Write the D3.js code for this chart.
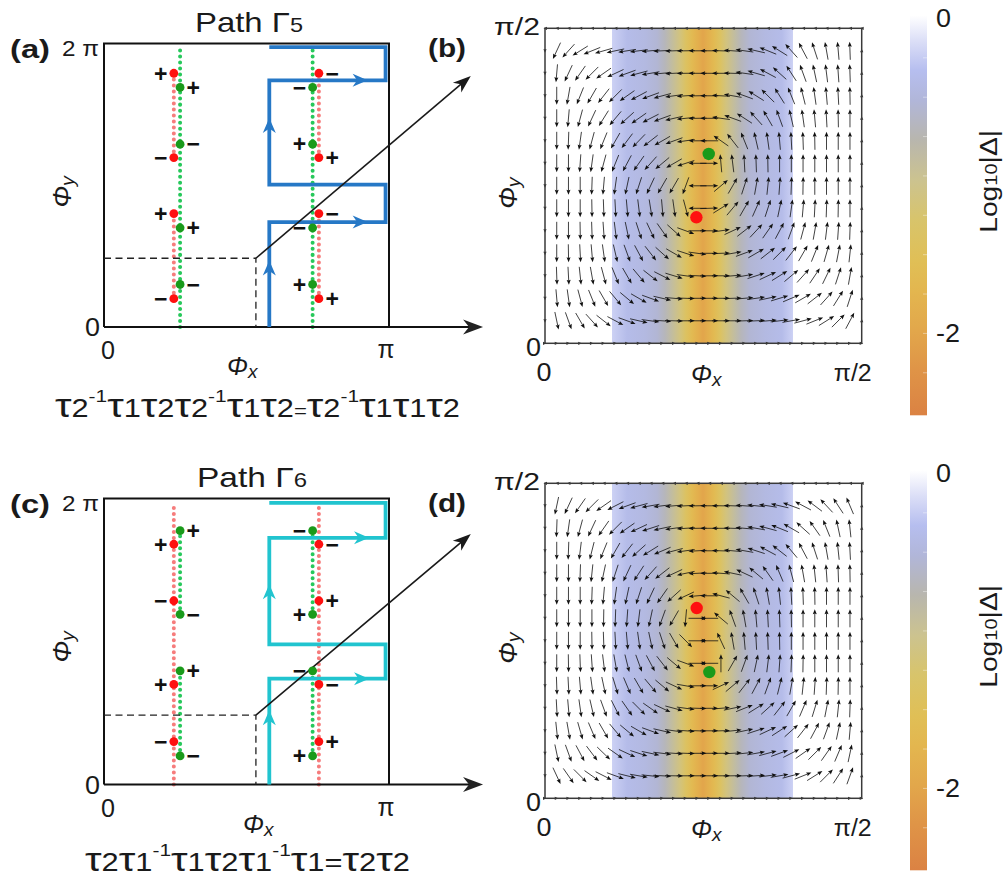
<!DOCTYPE html>
<html>
<head>
<meta charset="utf-8">
<title>Braiding paths and phase winding of the gap</title>
<script src="https://cdn.jsdelivr.net/npm/d3@7/dist/d3.min.js"></script>
<style>
  html, body { margin: 0; padding: 0; background: #fff; }
  svg { display: block; }
  text { font-family: "Liberation Sans", Arial, sans-serif; fill: #1a1a1a; }
</style>
</head>
<body>
<svg id="fig" width="1008" height="881" viewBox="0 0 1008 881"></svg>
<script>
const PI = Math.PI;

// ---------- data: loops on the (phi_x, phi_y) torus, coordinates in units of pi ----------
const loopA = [[0.58,0],[0.58,0.74],[0.988,0.74],[0.988,1.005],[0.58,1.005],[0.58,1.74],[0.988,1.74],[0.988,1.974],[0.58,1.974]];
const loopC = [[0.58,0],[0.58,0.74],[0.988,0.74],[0.988,0.98],[0.58,0.98],[0.58,1.725],[0.988,1.725],[0.988,1.97],[0.58,1.97]];
const loopHeadsA = [[0.58,0.47,"up"],[0.58,1.475,"up"],[0.925,0.74,"right"],[0.925,1.74,"right"]];
const loopHeadsC = [[0.58,0.52,"up"],[0.58,1.40,"up"],[0.93,0.74,"right"],[0.93,1.725,"right"]];

// gap nodes: [phi_x, phi_y, colour, charge, label side]
const nodesA = [
  [0.245,1.79,"r","+",-1],[0.267,1.69,"g","+",1],[0.267,1.29,"g","\u2212",1],[0.245,1.195,"r","\u2212",-1],
  [0.245,0.80,"r","+",-1],[0.267,0.70,"g","+",1],[0.267,0.30,"g","\u2212",1],[0.245,0.20,"r","\u2212",-1],
  [0.754,1.79,"r","\u2212",1],[0.732,1.69,"g","\u2212",-1],[0.732,1.29,"g","+",-1],[0.754,1.195,"r","+",1],
  [0.754,0.80,"r","\u2212",1],[0.732,0.70,"g","\u2212",-1],[0.732,0.30,"g","+",-1],[0.754,0.20,"r","+",1]];
const nodesC = [
  [0.267,1.775,"g","+",1],[0.245,1.68,"r","+",-1],[0.245,1.285,"r","\u2212",-1],[0.267,1.19,"g","\u2212",1],
  [0.267,0.795,"g","+",1],[0.245,0.70,"r","+",-1],[0.245,0.30,"r","\u2212",-1],[0.267,0.20,"g","\u2212",1],
  [0.732,1.775,"g","\u2212",-1],[0.754,1.68,"r","\u2212",1],[0.754,1.285,"r","+",1],[0.732,1.19,"g","+",-1],
  [0.732,0.795,"g","\u2212",-1],[0.754,0.70,"r","\u2212",1],[0.754,0.30,"r","+",1],[0.732,0.20,"g","+",-1]];

// dotted nodal lines: [phi_x, phi_y from, phi_y to]
const greenLinesA = [[0.267,0,1.97],[0.732,0,1.97]];
const redLinesA   = [[0.245,0.20,0.80],[0.245,1.195,1.79],[0.754,0.20,0.80],[0.754,1.195,1.79]];
const redLinesC   = [[0.245,0,1.96],[0.754,0,1.96]];
const greenLinesC = [[0.267,0.20,0.795],[0.267,1.19,1.775],[0.732,0.20,0.795],[0.732,1.19,1.775]];

// corner of the magnified window and tip of the pointer arrow
const windowCorner = [0.533, 0.485];
const pointerTipA = [1.287, 1.771];
const pointerTipC = [1.287, 1.751];
const axisEndX = 1.33;

// braid words under the loops ("^" = superscript, "_" = small run on the baseline)
const wordA = ["τ","2","^-1","τ","1","τ","2","τ","2","^-1","τ","1","τ","2","_=","τ","2","^-1","τ","1","τ","1","τ","2"];
const wordC = ["τ","2","τ","1","^-1","τ","1","τ","2","τ","1","^-1","τ","1","=","τ","2","τ","2"];

// ---------- data: magnified window [0, pi/2]^2 ----------
// nodes inside the window (units of pi)
const nodesB = [[0.2585,0.3005,"g"],[0.239,0.200,"r"]];
const nodesD = [[0.2395,0.302,"r"],[0.2594,0.2003,"g"]];

// direction of the gap vector (degrees), rows top to bottom, 26 columns left to right
const fieldB = [
  [245,228,212,202,196,192,189,187,185,183,182,181,180,180,178,176,172,167,158,148,132,118,108,100,95,92],
  [265,245,235,225,215,205,200,195,190,185,183,181,180,180,180,178,172,164,152,138,123,110,102,97,94,92],
  [270,260,248,240,232,225,215,208,200,195,188,184,181,180,177,170,160,148,135,122,112,104,98,95,93,91],
  [270,265,255,245,238,230,222,215,207,200,193,186,181,180,172,160,147,132,120,110,103,98,95,93,91,90],
  [270,268,262,255,248,240,233,226,218,210,200,188,180,180,145,128,112,103,98,95,93,92,91,90,90,90],
  [270,270,266,262,255,248,242,235,228,220,210,198,180,0,95,97,93,92,91,90,90,90,90,90,90,90],
  [270,270,270,268,265,262,258,252,245,240,240,250,180,0,40,60,72,80,84,86,88,89,90,90,90,90],
  [270,270,270,271,272,273,275,277,279,275,278,285,180,2,32,50,60,66,72,78,82,85,87,88,89,90],
  [270,270,271,272,274,277,282,288,295,305,318,340,0,0,8,25,38,47,55,62,70,75,80,83,86,88],
  [270,271,273,275,278,283,290,298,308,318,330,342,352,0,2,10,20,30,38,45,52,60,68,74,79,84],
  [272,273,276,280,285,292,300,310,322,333,343,352,357,0,0,5,10,18,25,32,40,48,56,64,72,80],
  [275,278,285,292,300,310,320,330,340,347,355,358,0,0,0,2,5,8,12,17,23,30,38,48,58,72],
  [282,290,300,312,322,332,340,347,352,356,358,0,0,0,0,0,2,3,5,7,10,15,22,32,45,62]
];
const fieldD = [
  [258,245,235,225,215,207,200,195,190,187,185,183,181,180,179,178,176,174,171,167,160,152,143,133,123,113],
  [268,262,255,245,235,225,215,205,198,192,188,184,181,180,180,178,175,170,165,158,150,138,125,112,102,96],
  [270,268,263,256,248,240,232,222,212,203,195,188,183,180,178,175,170,162,152,142,130,118,108,100,96,93],
  [270,270,268,264,258,252,245,237,228,218,205,192,183,180,176,168,155,140,125,113,105,100,96,94,92,91],
  [270,270,270,268,265,262,258,252,245,235,222,205,185,180,165,140,120,108,100,96,93,92,91,90,90,90],
  [270,270,270,270,269,268,266,263,258,250,240,265,0,180,140,110,100,95,93,92,91,90,90,90,90,90],
  [270,270,270,271,272,273,275,278,282,288,300,315,0,180,115,100,95,93,92,91,90,90,90,90,90,90],
  [270,271,272,274,277,280,284,290,298,308,320,340,0,180,90,60,70,78,83,86,88,89,90,90,90,90],
  [272,273,275,278,282,287,293,300,310,320,335,350,0,0,25,40,52,62,70,76,80,84,86,88,89,90],
  [273,275,278,283,290,297,305,315,325,335,345,352,358,0,5,12,22,32,42,52,60,67,73,79,84,88],
  [276,280,286,293,300,310,320,330,340,347,352,356,358,0,2,6,12,18,25,33,42,52,62,70,78,85],
  [282,290,298,307,316,325,335,342,348,353,356,358,0,0,0,3,6,10,15,20,27,35,45,55,67,78],
  [295,305,315,325,333,340,346,350,354,357,359,0,0,0,0,1,2,4,7,10,15,22,32,45,57,70]
];

// log10|gap| across phi_x (units of pi); outside this band the map is left blank
const bandPhi = [0.1058,0.1295,0.158,0.177,0.1895,0.2005,0.213,0.2225,0.232,0.2415,0.2495,0.2575,0.267,0.2765,0.286,0.2985,0.3095,0.3235,0.3475,0.374,0.3915];
const bandLog = [-0.22,-0.38,-0.45,-0.55,-0.7,-0.9,-1.15,-1.4,-1.65,-1.85,-2.0,-1.85,-1.65,-1.4,-1.15,-0.9,-0.7,-0.55,-0.45,-0.38,-0.22];

// colour map for log10|gap|
const cbVals = [0.02,-0.14,-0.33,-0.52,-0.77,-1.03,-1.28,-1.54,-1.73,-1.98,-2.23,-2.52];
const cbColors = ["#ffffff","#dcdff7","#b6beef","#b1b6d9","#b8b6ae","#ccc38f","#d8c46b","#e0bf56","#e3b64f","#e2a74b","#df9447","#db8243"];
const cbTicks = [0, -2];
const cbTickLabels = ["0", "-2"];

// ---------- drawing ----------
const svg = d3.select("#fig");
const defs = svg.append("defs");
const logColor = d3.scaleLinear().domain(cbVals).range(cbColors).interpolate(d3.interpolateRgb);

// text made of runs [string, size, raise, italic, bold], fitted to a width
function richText(parent, runs, o) {
  const g = parent.append("g");
  const t = g.append("text").attr("x", 0).attr("y", 0);
  let cur = 0;
  runs.forEach(([s, size, raise = 0, italic = false, bold = false]) => {
    t.append("tspan").text(s)
      .attr("dy", cur - raise)
      .style("font-size", size + "px")
      .style("font-style", italic ? "italic" : "normal")
      .style("font-weight", bold ? "bold" : "normal");
    cur = raise;
  });
  const bb = t.node().getBBox();
  const sx = o.width ? o.width / bb.width : 1;
  const ax = o.anchor === "middle" ? bb.x + bb.width / 2 : o.anchor === "end" ? bb.x + bb.width : bb.x;
  const rot = o.rotate ? ` rotate(${o.rotate})` : "";
  g.attr("transform", `translate(${o.x},${o.y})${rot} scale(${sx},1) translate(${-ax},0)`);
  return g;
}

function arrowHead(g, tx, ty, ang, len, half, fill, notch) {
  const ux = Math.cos(ang), uy = Math.sin(ang);
  const px = -uy, py = ux;
  const bx = tx - ux * len, by = ty - uy * len;
  const nx = tx - ux * len * (1 - notch), ny = ty - uy * len * (1 - notch);
  g.append("path")
    .attr("d", `M${tx},${ty}L${bx + px * half},${by + py * half}L${nx},${ny}L${bx - px * half},${by - py * half}Z`)
    .attr("fill", fill);
}

function wordRuns(word) {
  return word.map(s => {
    if (s === "τ") return ["τ", 34, 0];
    if (s[0] === "^") return [s.slice(1), 17, 15];
    if (s[0] === "_") return [s.slice(1), 18, 0];
    return [s, 25, 0];
  });
}

// ---- loop panels (a) and (c) ----
function loopPanel(p) {
  const x = d3.scaleLinear().domain([0, PI]).range([104, 389]);
  const y = d3.scaleLinear().domain([0, 2 * PI]).range([p.bottom, p.top]);
  const g = svg.append("g");

  // nodal lines
  const dotted = (lines, color) => lines.forEach(([lx, a, b]) => {
    g.append("line")
      .attr("x1", x(lx * PI)).attr("x2", x(lx * PI))
      .attr("y1", y(a * PI)).attr("y2", y(b * PI))
      .attr("stroke", color).attr("stroke-width", 4)
      .attr("stroke-linecap", "round").attr("stroke-dasharray", "0.01 6");
  });
  dotted(p.under, p.underColor);
  dotted(p.over, p.overColor);

  // frame and phi_x axis
  g.append("path")
    .attr("d", `M${x(0)},${y(0)}V${y(2 * PI)}H${x(PI)}V${y(0)}`)
    .attr("fill", "none").attr("stroke", "#111").attr("stroke-width", 2);
  g.append("line")
    .attr("x1", x(0)).attr("x2", x(axisEndX * PI) - 10)
    .attr("y1", y(0)).attr("y2", y(0))
    .attr("stroke", "#111").attr("stroke-width", 2);
  arrowHead(g, x(axisEndX * PI), y(0), 0, 20, 7.5, "#222", 0.3);

  // loop
  const line = d3.line().x(d => x(d[0] * PI)).y(d => y(d[1] * PI));
  g.append("path").attr("d", line(p.loop))
    .attr("fill", "none").attr("stroke", p.loopColor).attr("stroke-width", 3.8)
    .attr("stroke-linejoin", "miter");
  p.heads.forEach(([hx, hy, dir]) => {
    arrowHead(g, x(hx * PI), y(hy * PI), dir === "up" ? -PI / 2 : 0, 15, 6.5, p.loopColor, 0.3);
  });

  // magnified window marker and pointer
  g.append("path")
    .attr("d", `M${x(0)},${y(windowCorner[1] * PI)}H${x(windowCorner[0] * PI)}V${y(0)}`)
    .attr("fill", "none").attr("stroke", "#222").attr("stroke-width", 1.3)
    .attr("stroke-dasharray", "7 4.5");
  const cx = x(windowCorner[0] * PI), cy = y(windowCorner[1] * PI);
  const tx = x(p.tip[0] * PI), ty = y(p.tip[1] * PI);
  const ang = Math.atan2(ty - cy, tx - cx);
  g.append("line").attr("x1", cx).attr("y1", cy)
    .attr("x2", tx - Math.cos(ang) * 12).attr("y2", ty - Math.sin(ang) * 12)
    .attr("stroke", "#1a1a1a").attr("stroke-width", 1.6);
  arrowHead(g, tx, ty, ang, 18, 6.5, "#1a1a1a", 0.28);

  // nodes with charges
  p.nodes.forEach(([nx, ny, c, s, side]) => {
    g.append("circle").attr("cx", x(nx * PI)).attr("cy", y(ny * PI)).attr("r", 4.4)
      .attr("fill", c === "r" ? "#ff1010" : "#1a9a1a");
    g.append("text")
      .attr("x", x(nx * PI) + side * 6.5).attr("y", y(ny * PI)).attr("dy", "0.36em")
      .attr("text-anchor", side < 0 ? "end" : "start")
      .style("font-size", "23px").style("font-weight", "bold").style("fill", "#111")
      .text(s);
  });

  // texts
  richText(g, [["Path Γ", 28], [p.sub, 20]], { x: p.titleX, y: p.top - 12, width: p.titleW, anchor: "middle" });
  richText(g, [[p.label, 26, 0, false, true]], { x: 10, y: p.top + 14, width: 40 });
  richText(g, [["2 π", 22]], { x: 99, y: p.top + 12, width: 37, anchor: "end" });
  richText(g, [["0", 25]], { x: 100, y: y(0) + 9, width: 15, anchor: "end" });
  richText(g, [["0", 25]], { x: x(0) + 4, y: y(0) + 32, width: 14, anchor: "middle" });
  richText(g, [["π", 25]], { x: x(PI) - 3, y: y(0) + 31, width: 17, anchor: "middle" });
  richText(g, [["Φ", 25, 0, true], ["x", 19, -3, true]], { x: p.phixX, y: y(0) + 48, width: 32, anchor: "middle" });
  richText(g, [["Φ", 25, 0, true], ["y", 19, -3, true]], { x: 71, y: p.phiyY, width: 33, anchor: "middle", rotate: -90 });
  richText(g, wordRuns(p.word), { x: p.wordX, y: p.wordY, width: p.wordW });
}

// ---- magnified panels (b) and (d) ----
function fieldPanel(p) {
  const x = d3.scaleLinear().domain([0, PI / 2]).range([545, 861.7]);
  const y = d3.scaleLinear().domain([0, PI / 2]).range([p.top + 315, p.top]);
  const g = svg.append("g");

  // log10|gap| band
  const gid = "band" + p.id;
  const x0 = x(bandPhi[0] * PI), x1 = x(bandPhi[bandPhi.length - 1] * PI);
  const grad = defs.append("linearGradient").attr("id", gid)
    .attr("gradientUnits", "userSpaceOnUse")
    .attr("x1", x0).attr("x2", x1).attr("y1", 0).attr("y2", 0);
  bandPhi.forEach((ph, k) => {
    grad.append("stop").attr("offset", (x(ph * PI) - x0) / (x1 - x0)).attr("stop-color", logColor(bandLog[k]));
  });
  g.append("rect").attr("x", x0).attr("y", y(PI / 2)).attr("width", x1 - x0).attr("height", y(0) - y(PI / 2))
    .attr("fill", `url(#${gid})`);

  // vector field
  const field = p.field;
  const nx = field[0].length, ny = field.length;
  const dx = (PI / 2) / (nx + 1), dy = (PI / 2) / (ny + 1);
  const L = 18, HL = 5, HW = 2;
  const arrows = g.append("g");
  field.forEach((row, j) => row.forEach((deg, i) => {
    const px = x((i + 1) * dx), py = y(PI / 2 - (j + 1) * dy);
    const a = deg * PI / 180, ux = Math.cos(a), uy = -Math.sin(a);
    const tx = px + ux * L / 2, ty = py + uy * L / 2;
    arrows.append("line")
      .attr("x1", px - ux * L / 2).attr("y1", py - uy * L / 2)
      .attr("x2", tx - ux * HL * 0.8).attr("y2", ty - uy * HL * 0.8)
      .attr("stroke", "#111").attr("stroke-width", 0.8);
    arrowHead(arrows, tx, ty, Math.atan2(uy, ux), HL, HW, "#111", 0.15);
  }));
  // vanishing arrows on the boundary of the window
  d3.range(0, nx + 2).forEach(i => {
    arrowHead(arrows, x(i * dx) - 1.5, y(PI / 2), PI, 3.5, 1.6, "#333", 0);
    arrowHead(arrows, x(i * dx) + 1.5, y(0), 0, 3.5, 1.6, "#333", 0);
  });
  d3.range(1, ny + 1).forEach(j => {
    arrowHead(arrows, x(0), y(PI / 2 - j * dy) + 2, PI / 2, 3.5, 1.6, "#333", 0);
    arrowHead(arrows, x(PI / 2), y(PI / 2 - j * dy) - 2, -PI / 2, 3.5, 1.6, "#333", 0);
  });

  // frame
  g.append("rect").attr("x", x(0)).attr("y", y(PI / 2)).attr("width", x(PI / 2) - x(0)).attr("height", y(0) - y(PI / 2))
    .attr("fill", "none").attr("stroke", "#3a3a3a").attr("stroke-width", 1.5);

  // nodes
  p.nodes.forEach(([nxp, nyp, c]) => {
    g.append("circle").attr("cx", x(nxp * PI)).attr("cy", y(nyp * PI)).attr("r", 6.2)
      .attr("fill", c === "r" ? "#ff1010" : "#1a9a1a");
  });

  // texts
  richText(g, [[p.label, 26, 0, false, true]], { x: 428, y: p.top + 29, width: 38 });
  richText(g, [["π/2", 24]], { x: 540, y: p.top + 7, width: 46, anchor: "end" });
  richText(g, [["0", 25]], { x: 541, y: y(0) + 13, width: 15, anchor: "end" });
  richText(g, [["0", 25]], { x: x(0) - 1, y: y(0) + 38, width: 15, anchor: "middle" });
  richText(g, [["π/2", 24]], { x: x(PI / 2) - 9, y: y(0) + 38, width: 38, anchor: "middle" });
  richText(g, [["Φ", 25, 0, true], ["x", 19, -3, true]], { x: 707, y: y(0) + 40, width: 32, anchor: "middle" });
  richText(g, [["Φ", 25, 0, true], ["y", 19, -3, true]], { x: 517, y: p.top + 164, width: 33, anchor: "middle", rotate: -90 });

  // colour bar
  const cy = d3.scaleLinear().domain([cbVals[0], cbVals[cbVals.length - 1]]).range([p.top - 13, p.top + 387]);
  const cid = "cbar" + p.id;
  const cg = defs.append("linearGradient").attr("id", cid)
    .attr("gradientUnits", "userSpaceOnUse")
    .attr("x1", 0).attr("x2", 0).attr("y1", cy(cbVals[0])).attr("y2", cy(cbVals[cbVals.length - 1]));
  cbVals.forEach((v, k) => {
    cg.append("stop").attr("offset", (cy(v) - cy(cbVals[0])) / (cy(cbVals[cbVals.length - 1]) - cy(cbVals[0])))
      .attr("stop-color", cbColors[k]);
  });
  g.append("rect").attr("x", 910).attr("y", cy(cbVals[0])).attr("width", 17)
    .attr("height", cy(cbVals[cbVals.length - 1]) - cy(cbVals[0]))
    .attr("fill", `url(#${cid})`);
  d3.range(-0.25, -2.5, -0.25).forEach(v => {
    g.append("line").attr("x1", 923).attr("x2", 927).attr("y1", cy(v)).attr("y2", cy(v))
      .attr("stroke", "#ffffff").attr("stroke-opacity", 0.5).attr("stroke-width", 0.8);
  });
  cbTicks.forEach((v, k) => {
    richText(g, [[cbTickLabels[k], 25]], { x: 936, y: cy(v) + 9, width: k === 0 ? 15 : 24 });
  });
  richText(g, [["Log", 24], ["10", 17], ["|Δ|", 24]], { x: 997, y: p.top + 153, width: 103, anchor: "middle", rotate: -90 });
}

loopPanel({
  top: 43.5, bottom: 327, loop: loopA, heads: loopHeadsA, loopColor: "#2678c6",
  under: greenLinesA, underColor: "#27c85b", over: redLinesA, overColor: "#f67c7c",
  nodes: nodesA, tip: pointerTipA, sub: "5", label: "(a)", titleX: 249, titleW: 108,
  phixX: 243, phiyY: 191, word: wordA, wordX: 55, wordY: 417, wordW: 405
});
loopPanel({
  top: 498.5, bottom: 784.5, loop: loopC, heads: loopHeadsC, loopColor: "#21c4cf",
  under: redLinesC, underColor: "#f67c7c", over: greenLinesC, overColor: "#27c85b",
  nodes: nodesC, tip: pointerTipC, sub: "6", label: "(c)", titleX: 252, titleW: 110,
  phixX: 259, phiyY: 646, word: wordC, wordX: 85, wordY: 871, wordW: 325
});
fieldPanel({ id: "B", top: 28.3, field: fieldB, nodes: nodesB, label: "(b)" });
fieldPanel({ id: "D", top: 483.3, field: fieldD, nodes: nodesD, label: "(d)" });
</script>
</body>
</html>
